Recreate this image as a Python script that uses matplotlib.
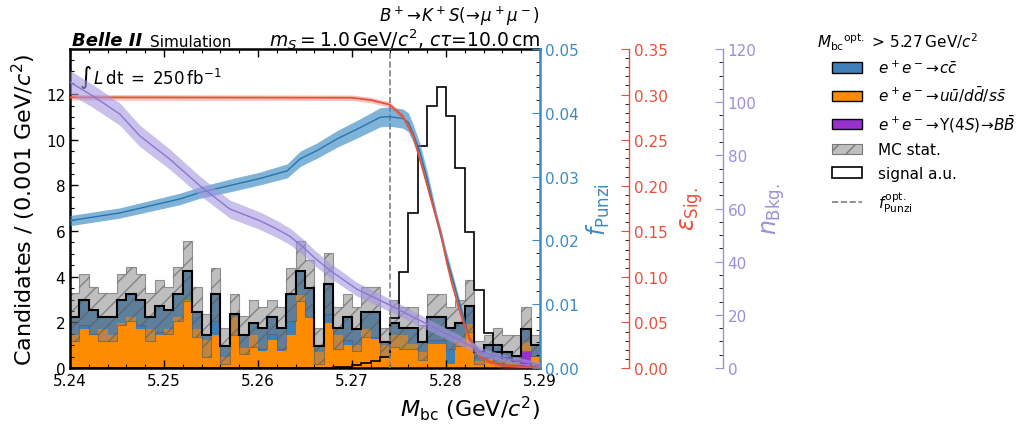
import numpy as np
import matplotlib
matplotlib.use("Agg")
import matplotlib.pyplot as plt
from matplotlib.patches import Patch
from matplotlib.lines import Line2D
from matplotlib.ticker import MultipleLocator, FormatStrFormatter

# ---------------- data ----------------
bin_lo, bin_hi, n_bins = 5.24, 5.29, 50

uds = [1.46, 1.72, 1.46, 1.72, 1.46, 1.99, 2.24, 1.72, 1.72, 1.46,
       1.72, 2.24, 2.99, 1.72, 1.21, 1.46, 0.47, 2.24, 0.88, 1.46,
       0.76, 1.21, 0.76, 1.46, 3.22, 2.24, 0.72, 1.97, 1.46, 0.99,
       0.99, 1.72, 1.28, 0.99, 1.46, 1.46, 1.06, 0.70, 1.06, 1.06,
       0.18, 1.21, 1.94, 0.30, 0.40, 0.32, 0.25, 0.18, 0.44, 0.47]
ccbar = [0.78, 1.28, 1.07, 0.52, 0.78, 1.01, 1.00, 1.28, 0.52, 1.26,
         0.81, 1.00, 1.26, 0.74, 0.22, 1.78, 0.49, 0.12, 0.58, 0.51,
         0.99, 1.03, 0.99, 1.78, 1.03, 1.25, 0.24, 1.73, 0.29, 1.25,
         0.73, 0.74, 1.18, 0.14, 0.51, 0.29, 0.69, 0.43, 1.18, 1.18,
         1.57, 0.76, 0.78, 0.39, 0.59, 0.67, 0.44, 0.36, 0.59, 0.52]
bbbar = [0.0] * 48 + [0.69, 0.0]
mc_err = [1.05, 1.12, 1.03, 1.05, 1.05, 1.12, 1.20, 1.12, 1.05, 1.13,
          1.03, 1.20, 1.32, 1.10, 0.95, 1.16, 0.79, 0.90, 0.84, 1.03,
          0.93, 0.76, 0.93, 1.16, 1.32, 1.25, 0.79, 1.33, 0.93, 1.02,
          0.96, 1.10, 1.10, 0.62, 1.03, 0.93, 0.93, 0.77, 1.02, 1.02,
          0.93, 1.00, 1.13, 0.51, 0.47, 0.76, 0.77, 0.92, 0.96, 0.47]
signal = [0.0] * 27 + [0.01, 0.03, 0.06, 0.12, 0.20, 0.30, 0.50, 2.20,
                       4.22, 6.80, 9.74, 11.50, 12.30, 11.06, 8.75, 5.96,
                       3.41, 1.54, 0.70, 0.45, 0.30, 0.20, 0.10]

punzi_x = [5.2400, 5.2453, 5.2517, 5.2538, 5.2570, 5.2602, 5.2631, 5.2645,
           5.2663, 5.2684, 5.2709, 5.2730, 5.2740, 5.2754, 5.2760, 5.2765,
           5.2772, 5.2780, 5.2790, 5.2801, 5.2812, 5.2822, 5.2825, 5.2844,
           5.2865, 5.2900]
punzi_y = [0.0231, 0.0243, 0.0265, 0.0275, 0.0286, 0.0297, 0.0309, 0.0328,
           0.0341, 0.0359, 0.0377, 0.0393, 0.0394, 0.0391, 0.0385, 0.0368,
           0.0340, 0.0296, 0.0234, 0.0171, 0.0113, 0.0061, 0.0045, 0.0011,
           0.0004, 0.0001]
punzi_err = [0.0008, 0.0008, 0.0009, 0.0009, 0.0010, 0.0010, 0.0011, 0.0012,
             0.0012, 0.0013, 0.0014, 0.0015, 0.0015, 0.0015, 0.0015, 0.0014,
             0.0013, 0.0012, 0.0010, 0.0009, 0.0007, 0.0005, 0.0004, 0.0002,
             0.0001, 0.0001]

eff_x = [5.2400, 5.2700, 5.2720, 5.2740, 5.2754, 5.2765, 5.2776, 5.2786,
         5.2794, 5.2801, 5.2807, 5.2815, 5.2822, 5.2829, 5.2836, 5.2844,
         5.2857, 5.2879, 5.2900]
eff_y = [0.297, 0.2965, 0.294, 0.289, 0.276, 0.255, 0.215, 0.178,
         0.150, 0.115, 0.090, 0.061, 0.040, 0.024, 0.013, 0.008,
         0.003, 0.001, 0.0005]

nbkg_x = [5.2400, 5.2424, 5.2453, 5.2474, 5.2506, 5.2538, 5.2570, 5.2602,
          5.2620, 5.2634, 5.2648, 5.2660, 5.2677, 5.2705, 5.2740, 5.2776,
          5.2812, 5.2839, 5.2865, 5.2897, 5.2900]
nbkg_y = [107.5, 102.4, 95.5, 87.4, 78.6, 68.6, 59.8, 55.4,
          52.3, 49.5, 45.5, 41.5, 36.6, 29.7, 23.7, 17.2,
          10.9, 5.9, 3.4, 1.5, 1.2]
nbkg_err = [4.4, 4.3, 4.2, 4.0, 3.8, 3.6, 3.4, 3.3,
            3.2, 3.1, 3.0, 2.9, 2.8, 2.6, 2.4, 2.2,
            1.9, 1.6, 1.3, 1.0, 1.0]

cut_value = 5.274

# ---------------- style ----------------
c_cc = "#3d7fb8"
c_uds = "#ff8c00"
c_bb = "#9932cc"
c_punzi = "#3b8bc2"
c_eff = "#e8503a"
c_nbkg = "#9b8fdc"

plt.rcParams["font.family"] = ["DejaVu Sans"]
plt.rcParams["mathtext.fontset"] = "dejavusans"

fig = plt.figure(figsize=(10.24, 4.31), dpi=100)
ax = fig.add_axes([70 / 1024, 1 - 369 / 431, 470 / 1024, 319 / 431])

edges = np.linspace(bin_lo, bin_hi, n_bins + 1)
bb_a = np.array(bbbar)
uds_a = np.array(uds)
cc_a = np.array(ccbar)
err_a = np.array(mc_err)
lvl1 = bb_a
lvl2 = bb_a + uds_a
total = lvl2 + cc_a

ax.stairs(lvl1, edges, baseline=0, fill=True, facecolor=c_bb, edgecolor="none", zorder=1)
ax.stairs(lvl2, edges, baseline=lvl1, fill=True, facecolor=c_uds, edgecolor="none", zorder=1)
ax.stairs(total, edges, baseline=lvl2, fill=True, facecolor=c_cc, edgecolor="none", zorder=1)
ax.stairs(total + err_a, edges, baseline=np.clip(total - err_a, 0, None), fill=True,
          facecolor=(0.5, 0.5, 0.5, 0.5), edgecolor=(0.35, 0.35, 0.35, 0.6),
          hatch="//", linewidth=0.8, zorder=2)
ax.stairs(total, edges, baseline=None, color="black", linewidth=1.5, zorder=3)
ax.stairs(np.array(signal), edges, baseline=None, color="black", linewidth=1.2, zorder=3)
ax.axvline(cut_value, color="gray", linestyle="--", linewidth=1.2, zorder=4)

ax.set_xlim(bin_lo, bin_hi)
ax.set_ylim(0, 13.98)
ax.xaxis.set_major_locator(MultipleLocator(0.01))
ax.xaxis.set_minor_locator(MultipleLocator(0.002))
ax.xaxis.set_major_formatter(FormatStrFormatter("%.2f"))
ax.yaxis.set_major_locator(MultipleLocator(2))
ax.yaxis.set_minor_locator(MultipleLocator(0.5))
ax.tick_params(which="both", direction="in", top=True, right=False, labelsize=11)
ax.tick_params(which="major", length=6, width=1)
ax.tick_params(which="minor", length=3, width=0.8)
for s in ("left", "bottom", "top"):
    ax.spines[s].set_linewidth(1.8)
ax.spines["right"].set_visible(False)

ax.set_ylabel(r"Candidates / (0.001 GeV/$c^2$)", fontsize=16, labelpad=6)
ax.set_xlabel(r"$M_{\mathrm{bc}}$ (GeV/$c^2$)", fontsize=16, loc="right", labelpad=4)

ax.text(0.02, 0.955, r"$\int\, L\,\mathrm{dt}\;=\;250\,\mathrm{fb}^{-1}$", transform=ax.transAxes,
        fontsize=12, va="top", ha="left")
ax.text(0.005, 1.0, "Belle II", transform=ax.transAxes, fontsize=13, fontweight="bold",
        fontstyle="italic", va="bottom", ha="left")
ax.text(0.17, 1.0, "Simulation", transform=ax.transAxes, fontsize=11, va="bottom", ha="left")
ax.text(1.0, 0.995, r"$m_S = 1.0\,\mathrm{GeV}/c^2$, $c\tau$=10.0$\,$cm", transform=ax.transAxes,
        fontsize=13.5, va="bottom", ha="right")
ax.text(1.0, 1.068, r"$B^+\!\to\! K^+ S(\!\to\!\mu^+\mu^-)$", transform=ax.transAxes,
        fontsize=12, va="bottom", ha="right")

# ---------------- twin axes ----------------
def style_twin(a, color, spine_lw):
    a.spines["right"].set_color(color)
    a.spines["right"].set_linewidth(spine_lw)
    for s in ("left", "top", "bottom"):
        a.spines[s].set_visible(False)
    a.tick_params(axis="y", which="both", direction="in")
    a.tick_params(axis="y", which="major", colors=color, labelsize=11, length=6)
    a.tick_params(axis="y", which="minor", color="black", length=3)

axf = ax.twinx()
axf.fill_between(punzi_x, np.array(punzi_y) - np.array(punzi_err),
                 np.array(punzi_y) + np.array(punzi_err), color=c_punzi, alpha=0.65, linewidth=0)
axf.plot(punzi_x, punzi_y, color="#2a74ad", linewidth=1.0)
axf.set_ylim(0, 0.05)
axf.yaxis.set_major_locator(MultipleLocator(0.01))
axf.yaxis.set_minor_locator(MultipleLocator(0.002))
axf.yaxis.set_major_formatter(FormatStrFormatter("%.2f"))
style_twin(axf, c_punzi, 1.8)
axf.set_ylabel(r"$f_{\mathrm{Punzi}}$", color=c_punzi, fontsize=17)
axf.yaxis.set_label_coords(1.095, 0.5)

axe = ax.twinx()
axe.spines["right"].set_position(("axes", 1.189))
axe.fill_between(eff_x, np.array(eff_y) - 0.003, np.array(eff_y) + 0.003,
                 color=c_eff, alpha=0.35, linewidth=0)
axe.plot(eff_x, eff_y, color=c_eff, linewidth=1.3)
axe.set_ylim(0, 0.35)
axe.yaxis.set_major_locator(MultipleLocator(0.05))
axe.yaxis.set_minor_locator(MultipleLocator(0.01))
axe.yaxis.set_major_formatter(FormatStrFormatter("%.2f"))
style_twin(axe, c_eff, 1.0)
axe.set_ylabel(r"$\varepsilon_{\mathrm{Sig.}}$", color=c_eff, fontsize=17)
axe.yaxis.set_label_coords(1.295, 0.5)

axn = ax.twinx()
axn.spines["right"].set_position(("axes", 1.389))
axn.fill_between(nbkg_x, np.array(nbkg_y) - np.array(nbkg_err),
                 np.array(nbkg_y) + np.array(nbkg_err), color="#a597e0", alpha=0.6, linewidth=0)
axn.plot(nbkg_x, nbkg_y, color="#8878d0", linewidth=1.0)
axn.set_ylim(0, 120)
axn.yaxis.set_major_locator(MultipleLocator(20))
axn.yaxis.set_minor_locator(MultipleLocator(5))
style_twin(axn, c_nbkg, 1.0)
axn.set_ylabel(r"$n_{\mathrm{Bkg.}}$", color=c_nbkg, fontsize=17)
axn.yaxis.set_label_coords(1.468, 0.5)

# ---------------- legend ----------------
handles = [
    Patch(facecolor=c_cc, edgecolor="black", linewidth=1),
    Patch(facecolor=c_uds, edgecolor="black", linewidth=1),
    Patch(facecolor=c_bb, edgecolor="black", linewidth=1),
    Patch(facecolor="#bfbfbf", edgecolor="#777777", hatch="//", linewidth=0.8),
    Patch(facecolor="white", edgecolor="black", linewidth=1.2),
    Line2D([0], [0], color="gray", linestyle="--", linewidth=1.2),
]
labels = [
    r"$e^+e^-\!\to\! c\bar{c}$",
    r"$e^+e^-\!\to\! u\bar{u}/d\bar{d}/s\bar{s}$",
    r"$e^+e^-\!\to\!\Upsilon(4S)\!\to\! B\bar{B}$",
    "MC stat.",
    "signal a.u.",
    r"$f^{\mathrm{opt.}}_{\mathrm{Punzi}}$",
]
fig.text(817 / 1024, 1 - 48 / 431, r"$M_{\mathrm{bc}}{}^{\mathrm{opt.}}$ > 5.27$\,$GeV/$c^2$",
         fontsize=11, ha="left", va="baseline")
fig.legend(handles, labels, loc="upper left", bbox_to_anchor=(0.799, 0.894), frameon=False,
           fontsize=11, labelspacing=0.55, handlelength=2.0, handletextpad=1.0)

fig.savefig("out.png", dpi=100)
